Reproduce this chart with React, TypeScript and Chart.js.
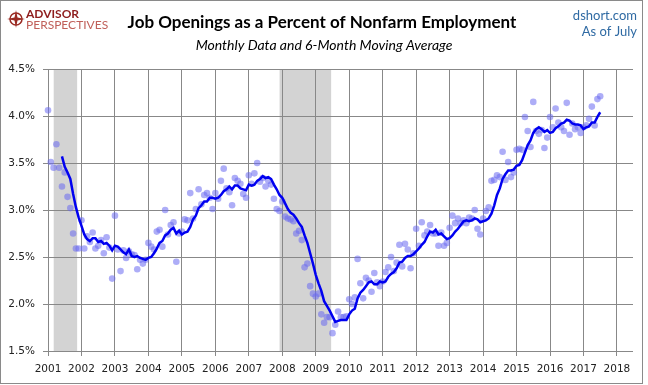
import React, { useEffect, useRef } from "react";
import { Chart, registerables } from "chart.js";

Chart.register(...registerables);

// ---- Data (percent of nonfarm employment, monthly, Jan of each year first) ----
const firstYear = 2001;
const yearTicks = [2001, 2002, 2003, 2004, 2005, 2006, 2007, 2008, 2009, 2010, 2011, 2012, 2013, 2014, 2015, 2016, 2017, 2018];
const percentTicks = [1.5, 2.0, 2.5, 3.0, 3.5, 4.0, 4.5];

const monthly2001 = [4.06, 3.51, 3.45, 3.70, 3.45, 3.25, 3.40, 3.14, 3.02, 2.75, 2.59, 2.59];
const monthly2002 = [2.89, 2.59, 2.72, 2.66, 2.76, 2.59, 2.62, 2.68, 2.54, 2.71, 2.60, 2.27];
const monthly2003 = [2.94, 2.58, 2.35, 2.57, 2.49, 2.56, 2.53, 2.52, 2.37, 2.47, 2.43, 2.47];
const monthly2004 = [2.65, 2.61, 2.58, 2.77, 2.79, 2.61, 3.00, 2.74, 2.84, 2.87, 2.45, 2.75];
const monthly2005 = [2.77, 2.90, 2.89, 3.18, 2.91, 3.01, 3.22, 3.06, 3.16, 3.18, 3.13, 3.01];
const monthly2006 = [3.18, 3.12, 3.31, 3.44, 3.23, 3.19, 3.05, 3.34, 3.31, 3.28, 3.17, 3.13];
const monthly2007 = [3.37, 3.28, 3.39, 3.50, 3.30, 3.34, 3.25, 3.31, 3.27, 3.12, 3.01, 2.99];
const monthly2008 = [3.09, 2.93, 2.91, 2.90, 2.88, 2.75, 2.78, 2.68, 2.39, 2.43, 2.19, 2.11];
const monthly2009 = [2.08, 2.11, 1.89, 1.80, 1.86, 1.86, 1.69, 1.78, 1.92, 1.86, 1.86, 1.87];
const monthly2010 = [2.05, 2.00, 2.07, 2.48, 2.22, 2.06, 2.28, 2.25, 2.13, 2.33, 2.23, 2.19];
const monthly2011 = [2.24, 2.34, 2.39, 2.50, 2.35, 2.44, 2.63, 2.40, 2.64, 2.58, 2.38, 2.54];
const monthly2012 = [2.80, 2.62, 2.87, 2.73, 2.77, 2.84, 2.75, 2.75, 2.62, 2.76, 2.62, 2.65];
const monthly2013 = [2.81, 2.94, 2.86, 2.91, 2.86, 2.89, 2.86, 2.92, 2.91, 3.00, 2.80, 2.74];
const monthly2014 = [2.91, 2.99, 3.03, 3.31, 3.32, 3.37, 3.35, 3.62, 3.32, 3.51, 3.35, 3.40];
const monthly2015 = [3.64, 3.65, 3.64, 3.99, 3.84, 3.67, 4.15, 3.84, 3.81, 3.85, 3.66, 3.77];
const monthly2016 = [3.99, 3.88, 4.08, 3.93, 3.88, 3.84, 4.14, 3.80, 3.92, 3.86, 3.88, 3.82];
const monthly2017 = [3.88, 3.90, 3.97, 4.10, 3.90, 4.18, 4.21];

// 6-month moving average (as plotted), null before it starts
const avg2001 = [null, null, null, null, null, 3.57, 3.46, 3.40, 3.33, 3.17, 3.03, 2.92];
const avg2002 = [2.83, 2.74, 2.69, 2.67, 2.70, 2.70, 2.66, 2.67, 2.64, 2.65, 2.62, 2.57];
const avg2003 = [2.62, 2.61, 2.58, 2.55, 2.53, 2.58, 2.51, 2.50, 2.51, 2.49, 2.48, 2.47];
const avg2004 = [2.49, 2.50, 2.54, 2.59, 2.65, 2.67, 2.73, 2.75, 2.79, 2.81, 2.75, 2.78];
const avg2005 = [2.74, 2.76, 2.77, 2.82, 2.90, 2.94, 3.02, 3.05, 3.09, 3.09, 3.13, 3.13];
const avg2006 = [3.12, 3.13, 3.16, 3.20, 3.22, 3.25, 3.22, 3.26, 3.26, 3.23, 3.22, 3.21];
const avg2007 = [3.27, 3.26, 3.27, 3.31, 3.33, 3.36, 3.34, 3.35, 3.33, 3.27, 3.22, 3.16];
const avg2008 = [3.13, 3.07, 3.01, 2.97, 2.95, 2.91, 2.86, 2.82, 2.73, 2.65, 2.54, 2.43];
const avg2009 = [2.31, 2.22, 2.14, 2.03, 1.98, 1.93, 1.87, 1.81, 1.82, 1.83, 1.83, 1.83];
const avg2010 = [1.89, 1.93, 1.95, 2.06, 2.12, 2.15, 2.19, 2.23, 2.24, 2.21, 2.21, 2.24];
const avg2011 = [2.23, 2.24, 2.29, 2.32, 2.34, 2.38, 2.44, 2.45, 2.49, 2.51, 2.51, 2.53];
const avg2012 = [2.56, 2.59, 2.63, 2.66, 2.72, 2.77, 2.76, 2.79, 2.74, 2.75, 2.72, 2.69];
const avg2013 = [2.70, 2.73, 2.77, 2.80, 2.84, 2.88, 2.89, 2.88, 2.89, 2.91, 2.90, 2.87];
const avg2014 = [2.88, 2.89, 2.91, 2.96, 3.05, 3.16, 3.23, 3.33, 3.38, 3.42, 3.42, 3.43];
const avg2015 = [3.47, 3.48, 3.53, 3.61, 3.69, 3.74, 3.82, 3.86, 3.88, 3.86, 3.83, 3.85];
const avg2016 = [3.82, 3.83, 3.87, 3.89, 3.92, 3.93, 3.96, 3.95, 3.92, 3.91, 3.91, 3.90];
const avg2017 = [3.86, 3.88, 3.89, 3.93, 3.93, 3.99, 4.04];

// Recessions (decimal years)
const recessionStart = [2001.17, 2007.92];
const recessionEnd = [2001.87, 2009.46];

const monthlyByYear = [monthly2001, monthly2002, monthly2003, monthly2004, monthly2005, monthly2006, monthly2007, monthly2008, monthly2009, monthly2010, monthly2011, monthly2012, monthly2013, monthly2014, monthly2015, monthly2016, monthly2017];
const avgByYear = [avg2001, avg2002, avg2003, avg2004, avg2005, avg2006, avg2007, avg2008, avg2009, avg2010, avg2011, avg2012, avg2013, avg2014, avg2015, avg2016, avg2017];

function toPoints(byYear: (number | null)[][]) {
  const pts: { x: number; y: number }[] = [];
  byYear.forEach((arr, yi) => {
    arr.forEach((v, mi) => {
      if (v !== null) pts.push({ x: firstYear + yi + mi / 12, y: v });
    });
  });
  return pts;
}

const bandsPlugin = {
  id: "recessionBands",
  beforeDraw(chart: any) {
    const { ctx, chartArea, scales } = chart;
    const xs = scales.x;
    ctx.save();
    ctx.fillStyle = "#d3d3d3";
    recessionStart.forEach((s, i) => {
      const x0 = xs.getPixelForValue(s);
      const x1 = xs.getPixelForValue(recessionEnd[i]);
      ctx.fillRect(x0, chartArea.top, x1 - x0, chartArea.bottom - chartArea.top);
    });
    ctx.restore();
  },
};

const headerPlugin = {
  id: "header",
  afterDraw(chart: any) {
    const { ctx } = chart;
    ctx.save();
    // title
    ctx.fillStyle = "#000";
    ctx.textAlign = "center";
    ctx.textBaseline = "middle";
    ctx.font = "bold 17px Lato";
    ctx.fillText("Job Openings as a Percent of Nonfarm Employment", 322, 23);
    ctx.font = "italic 14px Lato";
    ctx.fillText("Monthly Data and 6-Month Moving Average", 324, 45);
    // right notes
    ctx.fillStyle = "#2f6aa3";
    ctx.textAlign = "right";
    ctx.font = "13px Lato";
    ctx.fillText("dshort.com", 637, 16);
    ctx.fillText("As of July", 637, 32);
    // logo
    ctx.strokeStyle = "#9a2a22";
    ctx.lineWidth = 1.5;
    ctx.beginPath();
    ctx.arc(16, 19, 6, 0, Math.PI * 2);
    ctx.stroke();
    ctx.fillStyle = "#9a2a22";
    ctx.beginPath();
    ctx.moveTo(16, 10); ctx.lineTo(17.5, 17.5); ctx.lineTo(25, 19); ctx.lineTo(17.5, 20.5);
    ctx.lineTo(16, 28); ctx.lineTo(14.5, 20.5); ctx.lineTo(7, 19); ctx.lineTo(14.5, 17.5);
    ctx.closePath();
    ctx.fill();
    ctx.textAlign = "left";
    ctx.font = "bold 12px Lato";
    ctx.fillStyle = "#8e1c1c";
    ctx.fillText("ADVISOR", 26, 14);
    ctx.font = "12px Lato";
    ctx.fillStyle = "#c0605a";
    ctx.fillText("PERSPECTIVES", 26, 25);
    // outer border
    ctx.strokeStyle = "#8a8a8a";
    ctx.lineWidth = 1;
    ctx.strokeRect(0.5, 0.5, 642, 383);
    ctx.restore();
  },
};

export default function App() {
  const ref = useRef<HTMLCanvasElement | null>(null);
  useEffect(() => {
    document.body.style.margin = "0";
    const canvas = ref.current;
    if (!canvas) return;
    const chart = new Chart(canvas, {
      type: "line",
      data: {
        datasets: [
          {
            label: "6-Month Moving Average",
            data: toPoints(avgByYear),
            borderColor: "#0000f0",
            borderWidth: 2.5,
            pointRadius: 0,
            tension: 0,
            fill: false,
          },
          {
            label: "Monthly",
            data: toPoints(monthlyByYear),
            showLine: false,
            pointRadius: 3.3,
            pointBorderWidth: 0,
            pointBackgroundColor: "rgba(105,105,240,0.55)",
            borderColor: "rgba(0,0,0,0)",
          },
        ],
      },
      options: {
        responsive: false,
        animation: false,
        devicePixelRatio: 1,
        layout: { padding: { top: 69, right: 15, bottom: 0, left: 0 } },
        plugins: { legend: { display: false }, tooltip: { enabled: false }, title: { display: false } },
        scales: {
          x: {
            type: "linear",
            min: 2000.85,
            max: 2018.48,
            afterBuildTicks: (s: any) => {
              s.ticks = yearTicks.map((v) => ({ value: v }));
            },
            afterFit: (s: any) => {
              s.height = 34;
            },
            grid: { color: "#888", lineWidth: 1, drawTicks: true, tickLength: 5 },
            border: { display: false },
            ticks: {
              callback: (v: any) => String(v),
              font: { family: "DejaVu Sans", size: 10.5 },
              color: "#222",
              maxRotation: 0,
              autoSkip: false,
              padding: 7,
            },
          },
          y: {
            min: 1.5,
            max: 4.5,
            afterBuildTicks: (s: any) => {
              s.ticks = percentTicks.map((v) => ({ value: v }));
            },
            afterFit: (s: any) => {
              s.width = 43;
            },
            grid: { color: "#888", lineWidth: 1, drawTicks: false },
            border: { display: false },
            ticks: {
              callback: (v: any) => Number(v).toFixed(1) + "%",
              font: { family: "DejaVu Sans", size: 10.5 },
              color: "#222",
              padding: 8,
            },
          },
        },
      },
      plugins: [bandsPlugin, headerPlugin],
    });
    return () => chart.destroy();
  }, []);
  return <canvas ref={ref} width={648} height={385} style={{ display: "block" }} />;
}
